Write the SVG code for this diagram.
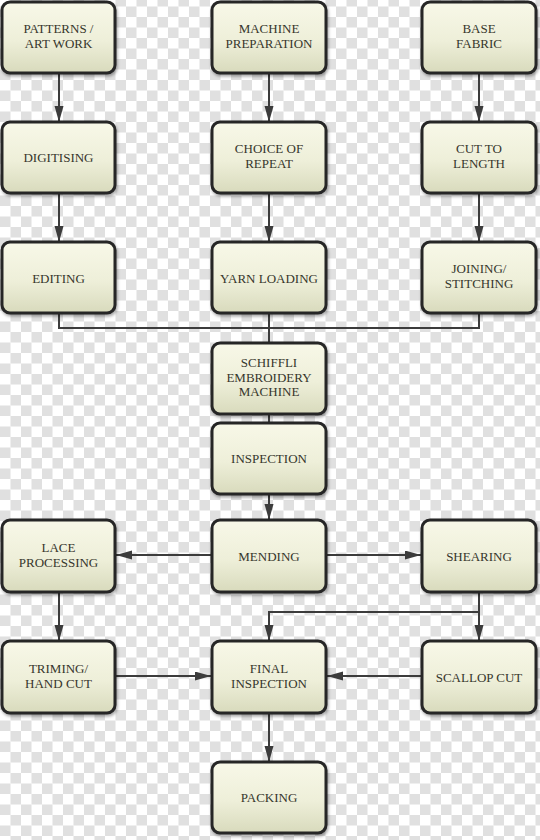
<svg xmlns="http://www.w3.org/2000/svg" width="540" height="840" viewBox="0 0 540 840">
<style>
.box{fill:url(#g);stroke:#252525;stroke-width:3;filter:url(#sh)}
.t{font-family:"Liberation Serif","DejaVu Serif",serif;font-size:13px;fill:#36362c;text-anchor:middle}
.c{fill:none;stroke:#3c3c3c;stroke-width:2}
.a{marker-end:url(#ah)}
</style>
<defs>
<pattern id="chk" width="21" height="21" patternUnits="userSpaceOnUse" y="-4">
<rect width="21" height="21" fill="#ffffff"/>
<rect x="10.5" y="0" width="10.5" height="10.5" fill="#e0e0e0"/>
<rect x="0" y="10.5" width="10.5" height="10.5" fill="#e0e0e0"/>
</pattern>
<linearGradient id="g" x1="0" y1="0" x2="0" y2="1">
<stop offset="0" stop-color="#f8f8e8"/>
<stop offset="0.55" stop-color="#eeefd9"/>
<stop offset="1" stop-color="#d8dabc"/>
</linearGradient>
<filter id="sh" x="-10%" y="-10%" width="125%" height="130%">
<feDropShadow dx="1" dy="2" stdDeviation="1.5" flood-color="#000" flood-opacity="0.35"/>
</filter>
<marker id="ah" markerUnits="userSpaceOnUse" markerWidth="17" markerHeight="10" refX="16" refY="4.5" orient="auto">
<path d="M0,0 L16,4.5 L0,9 Z" fill="#3c3c3c"/>
</marker>
</defs>
<rect width="540" height="840" fill="url(#chk)"/>

<g id="connectors">
<path class="c a" d="M59 73 V122"/>
<path class="c a" d="M269 73 V122"/>
<path class="c a" d="M479 73 V122"/>
<path class="c a" d="M59 194 V242"/>
<path class="c a" d="M269 194 V242"/>
<path class="c a" d="M479 194 V242"/>
<path class="c" d="M59 313 V328 H479 V313"/>
<path class="c" d="M269 313 V343"/>
<path class="c" d="M269 414 V423"/>
<path class="c a" d="M269 494 V520"/>
<path class="c a" d="M212 555 H116"/>
<path class="c a" d="M326 555 H421"/>
<path class="c a" d="M59 592 V641"/>
<path class="c a" d="M479 592 V641"/>
<path class="c a" d="M479 612 H269 V641"/>
<path class="c a" d="M115 676 H211"/>
<path class="c a" d="M422 676 H327"/>
<path class="c a" d="M269 713 V762"/>
</g>

<g id="patterns"><rect class="box" x="2" y="2" width="113" height="71" rx="8"/><text class="t" x="58.5" y="33">PATTERNS /</text><text class="t" x="58.5" y="47.5">ART WORK</text></g>
<g id="machine-prep"><rect class="box" x="212" y="2" width="114" height="71" rx="8"/><text class="t" x="269" y="33">MACHINE</text><text class="t" x="269" y="47.5">PREPARATION</text></g>
<g id="base-fabric"><rect class="box" x="422" y="2" width="114" height="71" rx="8"/><text class="t" x="479" y="33">BASE</text><text class="t" x="479" y="47.5">FABRIC</text></g>

<g id="digitising"><rect class="box" x="2" y="122" width="113" height="71" rx="8"/><text class="t" x="58.5" y="162">DIGITISING</text></g>
<g id="choice-repeat"><rect class="box" x="212" y="122" width="114" height="71" rx="8"/><text class="t" x="269" y="153">CHOICE OF</text><text class="t" x="269" y="167.5">REPEAT</text></g>
<g id="cut-length"><rect class="box" x="422" y="122" width="114" height="71" rx="8"/><text class="t" x="479" y="153">CUT TO</text><text class="t" x="479" y="167.5">LENGTH</text></g>

<g id="editing"><rect class="box" x="2" y="242" width="113" height="71" rx="8"/><text class="t" x="58.5" y="282.5">EDITING</text></g>
<g id="yarn-loading"><rect class="box" x="212" y="242" width="114" height="71" rx="8"/><text class="t" x="269" y="282.5">YARN LOADING</text></g>
<g id="joining"><rect class="box" x="422" y="242" width="114" height="71" rx="8"/><text class="t" x="479" y="273">JOINING/</text><text class="t" x="479" y="287.5">STITCHING</text></g>

<g id="schiffli"><rect class="box" x="212" y="343" width="114" height="71" rx="8"/><text class="t" x="269" y="367">SCHIFFLI</text><text class="t" x="269" y="381.5">EMBROIDERY</text><text class="t" x="269" y="396">MACHINE</text></g>
<g id="inspection"><rect class="box" x="212" y="423" width="114" height="71" rx="8"/><text class="t" x="269" y="463">INSPECTION</text></g>

<g id="lace"><rect class="box" x="2" y="520" width="113" height="72" rx="8"/><text class="t" x="58.5" y="552">LACE</text><text class="t" x="58.5" y="566.5">PROCESSING</text></g>
<g id="mending"><rect class="box" x="212" y="520" width="114" height="72" rx="8"/><text class="t" x="269" y="560.5">MENDING</text></g>
<g id="shearing"><rect class="box" x="422" y="520" width="114" height="72" rx="8"/><text class="t" x="479" y="560.5">SHEARING</text></g>

<g id="trimming"><rect class="box" x="2" y="641" width="113" height="72" rx="8"/><text class="t" x="58.5" y="673">TRIMING/</text><text class="t" x="58.5" y="687.5">HAND CUT</text></g>
<g id="final-inspection"><rect class="box" x="212" y="641" width="114" height="72" rx="8"/><text class="t" x="269" y="673">FINAL</text><text class="t" x="269" y="687.5">INSPECTION</text></g>
<g id="scallop"><rect class="box" x="422" y="641" width="114" height="72" rx="8"/><text class="t" x="479" y="681.5">SCALLOP CUT</text></g>

<g id="packing"><rect class="box" x="212" y="762" width="114" height="71" rx="8"/><text class="t" x="269" y="802">PACKING</text></g>
</svg>
